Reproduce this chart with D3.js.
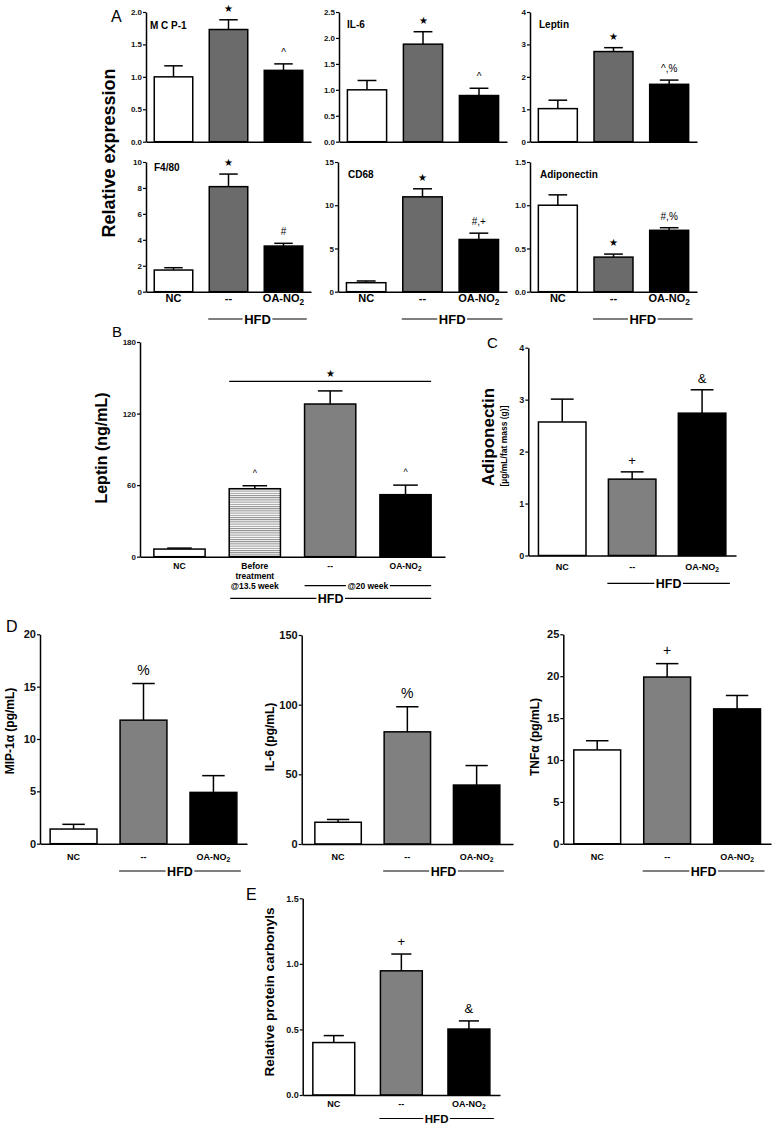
<!DOCTYPE html>
<html><head><meta charset="utf-8">
<script src="https://cdn.jsdelivr.net/npm/d3@7"></script>
<style>
body{margin:0;background:#fff}
svg{display:block}
text{font-family:"Liberation Sans",Arial,Helvetica,sans-serif}
</style>
</head><body>
<svg id="c" width="773" height="1126"></svg>
<script>
// ---------------- DATA ----------------
const groups3 = ["NC", "--", "OA-NO2"];
const groupsB = ["NC", "Before", "--", "OA-NO2"];

// Panel A (relative mRNA expression)
const mcp1Mean = [1.00, 1.73, 1.10], mcp1Err = [0.17, 0.15, 0.10], mcp1Sig = ["", "★", "^"];
const il6aMean = [1.00, 1.88, 0.89], il6aErr = [0.18, 0.24, 0.14], il6aSig = ["", "★", "^"];
const leptaMean = [1.02, 2.78, 1.77], leptaErr = [0.26, 0.12, 0.13], leptaSig = ["", "★", "^,%"];
const f480Mean = [1.67, 8.10, 3.52], f480Err = [0.18, 0.97, 0.21], f480Sig = ["", "★", "#"];
const cd68Mean = [1.04, 10.97, 6.04], cd68Err = [0.20, 0.93, 0.73], cd68Sig = ["", "★", "#,+"];
const adipaMean = [1.00, 0.40, 0.71], adipaErr = [0.12, 0.035, 0.03], adipaSig = ["", "★", "#,%"];

// Panel B (plasma leptin, ng/mL)
const leptbMean = [6.4, 57, 128, 52], leptbErr = [0.8, 2.5, 11, 8], leptbSig = ["", "^", "", "^"];
// Panel C (adiponectin, µg/mL/fat mass)
const adipcMean = [2.57, 1.47, 2.74], adipcErr = [0.44, 0.14, 0.45], adipcSig = ["", "+", "&"];
// Panel D (plasma cytokines, pg/mL)
const mipMean = [1.4, 11.8, 4.9], mipErr = [0.45, 3.5, 1.6], mipSig = ["", "%", ""];
const il6dMean = [15.6, 80.5, 42.3], il6dErr = [2.0, 18, 14], il6dSig = ["", "%", ""];
const tnfMean = [11.2, 19.9, 16.1], tnfErr = [1.1, 1.6, 1.6], tnfSig = ["", "+", ""];
// Panel E (relative protein carbonyls)
const carbMean = [0.40, 0.947, 0.503], carbErr = [0.053, 0.128, 0.062], carbSig = ["", "+", "&"];

// tick values
const ticksMcp1 = [0, 0.5, 1.0, 1.5, 2.0];
const ticksIl6a = [0, 0.5, 1.0, 1.5, 2.0, 2.5];
const ticksLepta = [0, 1, 2, 3, 4];
const ticksF480 = [0, 2, 4, 6, 8, 10];
const ticksCd68 = [0, 5, 10, 15];
const ticksAdipa = [0, 0.5, 1.0, 1.5];
const ticksLeptb = [0, 60, 120, 180];
const ticksAdipc = [0, 1, 2, 3, 4];
const ticksMip = [0, 5, 10, 15, 20];
const ticksIl6d = [0, 50, 100, 150];
const ticksTnf = [0, 5, 10, 15, 20, 25];
const ticksCarb = [0, 0.5, 1.0, 1.5];

// ---------------- DRAWING ----------------
const svg = d3.select("#c");
const defs = svg.append("defs");
const pat = defs.append("pattern").attr("id", "stripes").attr("patternUnits", "userSpaceOnUse")
  .attr("width", 6).attr("height", 2.2);
pat.append("rect").attr("width", 6).attr("height", 2.2).attr("fill", "#fff");
pat.append("rect").attr("width", 6).attr("height", 1).attr("fill", "#8a8a8a");

const GA = "#6b6b6b", GB = "#808080";

function label(g, t, x, y, size, anchor) {
  const tx = g.append("text").attr("x", x).attr("y", y).attr("text-anchor", anchor || "middle")
    .attr("font-size", size).attr("font-weight", "bold").attr("fill", "#000");
  if (t === "OA-NO2") {
    tx.append("tspan").text("OA-NO");
    tx.append("tspan").text("2").attr("font-size", size * 0.75).attr("dy", size * 0.25);
  } else tx.text(t);
  return tx;
}

function hfd(g, xl, xr, y, size, txt) {
  const cx = (xl + xr) / 2;
  const t = g.append("text").attr("x", cx).attr("y", y + size * 0.36).attr("text-anchor", "middle")
    .attr("font-size", size).attr("font-weight", "bold").text(txt || "HFD");
  const w = t.node().getComputedTextLength();
  g.append("line").attr("x1", xl).attr("x2", cx - w / 2 - 1.5).attr("y1", y).attr("y2", y)
    .attr("stroke", "#000").attr("stroke-width", 1.2);
  g.append("line").attr("x1", cx + w / 2 + 1.5).attr("x2", xr).attr("y1", y).attr("y2", y)
    .attr("stroke", "#000").attr("stroke-width", 1.2);
}

function panel(o) {
  const g = svg.append("g");
  const x = d3.scaleBand().domain(o.cats).range([o.x0, o.x1]).paddingInner(o.pi).paddingOuter(o.po);
  const y = d3.scaleLinear().domain([0, o.ticks[o.ticks.length - 1]]).range([o.yb, o.yt]);
  const bw = x.bandwidth();
  o.means.forEach((m, i) => {
    const cx = x(o.cats[i]) + bw / 2;
    g.append("line").attr("x1", cx).attr("x2", cx).attr("y1", y(m)).attr("y2", y(m + o.errs[i]))
      .attr("stroke", "#000").attr("stroke-width", 1.5);
    g.append("line").attr("x1", cx - bw * 0.24).attr("x2", cx + bw * 0.24)
      .attr("y1", y(m + o.errs[i])).attr("y2", y(m + o.errs[i]))
      .attr("stroke", "#000").attr("stroke-width", 1.5);
  });
  g.selectAll("rect.bar").data(o.means).join("rect").attr("class", "bar")
    .attr("x", (d, i) => x(o.cats[i])).attr("width", bw)
    .attr("y", d => y(d)).attr("height", d => y(0) - y(d))
    .attr("fill", (d, i) => o.fills[i]).attr("stroke", "#000").attr("stroke-width", 1.5);
  o.sig.forEach((s, i) => {
    if (!s) return;
    const cx = x(o.cats[i]) + bw / 2;
    const star = s === "★";
    g.append("text").attr("x", cx).attr("y", y(o.means[i] + o.errs[i]) - (o.sigOff || 6))
      .attr("text-anchor", "middle").attr("font-size", star ? o.sigSize * 0.95 : o.sigSize)
      .attr("font-family", star ? "DejaVu Sans" : null).text(s);
  });
  const ya = d3.axisLeft(y).tickValues(o.ticks).tickSize(3).tickSizeOuter(0).tickPadding(1)
    .tickFormat(o.fmt ? d3.format(o.fmt) : d3.format("d"));
  const ag = g.append("g").attr("transform", `translate(${o.x0},0)`).call(ya);
  ag.select(".domain").attr("stroke-width", 1.5);
  ag.selectAll(".tick line").attr("stroke-width", 1.2);
  ag.selectAll(".tick text").attr("font-size", o.tickSize).attr("font-weight", "bold")
    .attr("font-family", "Liberation Sans, Arial, sans-serif").attr("fill", "#111");
  const xa = d3.axisBottom(x).tickSize(0).tickSizeOuter(0).tickFormat("");
  const xg = g.append("g").attr("transform", `translate(0,${o.yb})`).call(xa);
  xg.select(".domain").attr("stroke-width", 1.5);
  if (o.xlab) {
    o.cats.forEach((c, i) => {
      if (c === "Before") return;
      label(g, c, x(c) + bw / 2, o.xlabY, o.xlabSize);
    });
  }
  if (o.hfdY) hfd(g, x(o.cats[o.cats.length - 2]) - 1, x(o.cats[o.cats.length - 1]) + bw + 4, o.hfdY, o.hfdSize);
  return {g, x, y, bw};
}

function ylab(txt, x, y, size, weight) {
  svg.append("text").attr("transform", `translate(${x},${y}) rotate(-90)`).attr("text-anchor", "middle")
    .attr("font-size", size).attr("font-weight", weight || "bold").text(txt);
}
function title(txt, x, y, size) {
  svg.append("text").attr("x", x).attr("y", y).attr("font-size", size).attr("font-weight", "bold").text(txt);
}
function letter(txt, x, y, size) {
  svg.append("text").attr("x", x).attr("y", y).attr("font-size", size).text(txt);
}

const fills3A = ["#fff", GA, "#000"];
const fills3 = ["#fff", GB, "#000"];
const aCommon = {cats: groups3, fills: fills3A, pi: 0.3, po: 0.15, tickSize: 8, sigSize: 10, sigOff: 8};

// ---- Panel A, top row ----
panel({...aCommon, x0: 146, x1: 311, yt: 12, yb: 141.7, ticks: ticksMcp1, fmt: ".1f", means: mcp1Mean, errs: mcp1Err, sig: mcp1Sig});
panel({...aCommon, x0: 339, x1: 507, yt: 12, yb: 141.7, ticks: ticksIl6a, fmt: ".1f", means: il6aMean, errs: il6aErr, sig: il6aSig});
panel({...aCommon, x0: 530, x1: 697, yt: 12, yb: 141.7, ticks: ticksLepta, means: leptaMean, errs: leptaErr, sig: leptaSig});
// ---- Panel A, bottom row ----
const aBot = {...aCommon, yt: 162, yb: 291.7, xlab: true, xlabY: 302, xlabSize: 11, hfdY: 319, hfdSize: 13};
panel({...aBot, x0: 146, x1: 311, ticks: ticksF480, means: f480Mean, errs: f480Err, sig: f480Sig});
panel({...aBot, x0: 338, x1: 507, ticks: ticksCd68, means: cd68Mean, errs: cd68Err, sig: cd68Sig});
panel({...aBot, x0: 530, x1: 697, ticks: ticksAdipa, fmt: ".1f", means: adipaMean, errs: adipaErr, sig: adipaSig});

title("M C P-1", 150, 29, 10);
title("IL-6", 347, 28, 10);
title("Leptin", 539, 28, 10);
title("F4/80", 154, 171, 10);
title("CD68", 348, 178, 10);
title("Adiponectin", 540, 178, 10);
ylab("Relative expression", 115, 153, 18);
letter("A", 111, 22, 16);

// ---- Panel B ----
const pB = panel({cats: groupsB, fills: ["#fff", "url(#stripes)", GB, "#000"], pi: 0.32, po: 0.184,
  x0: 140, x1: 445, yt: 342, yb: 556.7, ticks: ticksLeptb, means: leptbMean, errs: leptbErr, sig: leptbSig,
  tickSize: 8, sigSize: 9, sigOff: 10, xlab: true, xlabY: 569, xlabSize: 8.5});
{
  const {g, x, y, bw} = pB;
  const cx = x("Before") + bw / 2;
  ["Before", "treatment", "@13.5 week"].forEach((t, i) => label(g, t, cx, 569 + i * 10, 8.5));
  const ly = y(leptbMean[2] + leptbErr[2]) - 9.5;
  g.append("line").attr("x1", x("Before")).attr("x2", x("OA-NO2") + bw).attr("y1", ly).attr("y2", ly)
    .attr("stroke", "#000").attr("stroke-width", 1.2);
  g.append("text").attr("x", (x("Before") + x("OA-NO2") + bw) / 2).attr("y", ly - 4.5).attr("text-anchor", "middle")
    .attr("font-size", 10).attr("font-family", "DejaVu Sans").text("★");
  hfd(g, x("--"), x("OA-NO2") + bw, 585.7, 8.5, "@20 week");
  hfd(g, x("Before") + 1, x("OA-NO2") + bw, 598.3, 12.5);
}
ylab("Leptin (ng/mL)", 107, 448, 16);
letter("B", 112, 337, 15);

// ---- Panel C ----
panel({cats: groups3, fills: fills3, pi: 0.32, po: 0.145, x0: 528.3, x1: 736, yt: 347.7, yb: 555.5,
  ticks: ticksAdipc, means: adipcMean, errs: adipcErr, sig: adipcSig, tickSize: 9, sigSize: 13, sigOff: 7,
  xlab: true, xlabY: 570, xlabSize: 9, hfdY: 583.3, hfdSize: 12.5});
ylab("Adiponectin", 494, 437, 17);
ylab("[µg/mL/fat mass (g)]", 507, 446, 8.5);
letter("C", 487, 348, 15);

// ---- Panel D ----
const dCommon = {cats: groups3, fills: fills3, pi: 0.33, po: 0.145, tickSize: 11, sigSize: 14, sigOff: 9,
  xlab: true, xlabY: 860, xlabSize: 9, hfdY: 871, hfdSize: 12.5};
panel({...dCommon, x0: 40, x1: 247, yt: 634.3, yb: 843.7, ticks: ticksMip, means: mipMean, errs: mipErr, sig: mipSig});
panel({...dCommon, x0: 301.7, x1: 513, yt: 635, yb: 844, po: 0.19, ticks: ticksIl6d, means: il6dMean, errs: il6dErr, sig: il6dSig});
panel({...dCommon, x0: 563.3, x1: 771, yt: 634.3, yb: 843.8, po: 0.15, ticks: ticksTnf, means: tnfMean, errs: tnfErr, sig: tnfSig});
ylab("MIP-1α (pg/mL)", 14, 731, 12);
ylab("IL-6 (pg/mL)", 274, 737, 12);
ylab("TNFα (pg/mL)", 539, 737, 12);
letter("D", 6, 632, 16);

// ---- Panel E ----
panel({cats: groups3, fills: fills3, pi: 0.38, po: 0.15, x0: 302.7, x1: 500, yt: 898.3, yb: 1095,
  ticks: ticksCarb, fmt: ".1f", means: carbMean, errs: carbErr, sig: carbSig, tickSize: 9, sigSize: 13, sigOff: 8,
  xlab: true, xlabY: 1106.5, xlabSize: 9, hfdY: 1118.5, hfdSize: 11.5});
ylab("Relative protein carbonyls", 274, 992, 13.5);
letter("E", 246, 900, 16);
</script>
</body></html>
